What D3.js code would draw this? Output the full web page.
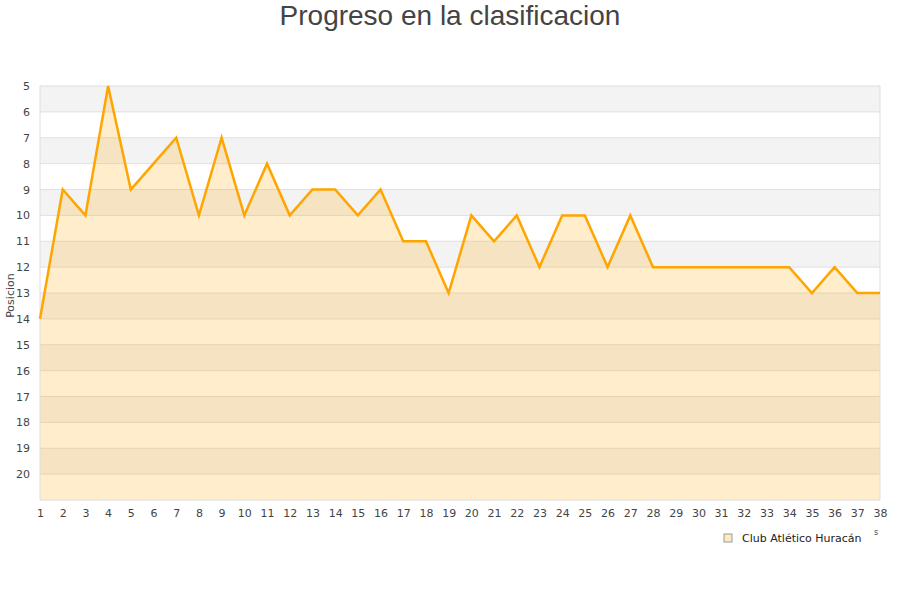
<!DOCTYPE html>
<html lang="es">
<head>
    <meta charset="UTF-8">
    <title>Progreso en la clasificacion</title>
    <style>
        body { margin: 0; padding: 0; background: #fff; }
        svg { display: block; }
        .tick text { font-family: "DejaVu Sans", sans-serif; font-size: 11px; fill: #444; }
        .title { font-family: "Liberation Sans", Arial, sans-serif; font-size: 28px; fill: #444; }
        .axis-label { font-family: "DejaVu Sans", sans-serif; font-size: 11px; fill: #444; }
        .legend text { font-family: "DejaVu Sans", sans-serif; font-size: 11px; fill: #222; }
    </style>
</head>
<body>
<svg id="chart" width="900" height="600"></svg>
<script src="https://d3js.org/d3.v7.min.js"></script>
<script>
    // jornadas and league position of the team
    const rounds = d3.range(1, 39);
    const positions = [14, 9, 10, 5, 9, 8, 7, 10, 7, 10,
                       8, 10, 9, 9, 10, 9, 11, 11, 13, 10,
                       11, 10, 12, 10, 10, 12, 10, 12, 12, 12,
                       12, 12, 12, 12, 13, 12, 13, 13];
    const yTicks = d3.range(5, 21);
    const seriesName = "Club Atlético Huracán";

    const margin = { top: 86, right: 20, bottom: 100, left: 40 };
    const width = 900 - margin.left - margin.right;
    const height = 600 - margin.top - margin.bottom;

    const svg = d3.select("#chart");
    const g = svg.append("g")
        .attr("transform", "translate(" + margin.left + "," + margin.top + ")");

    const x = d3.scaleLinear().domain([1, 38]).range([0, width]);
    const y = d3.scaleLinear().domain([5, 21]).range([0, height]);

    // alternating background bands
    g.selectAll(".band")
        .data(d3.range(5, 21))
        .enter().append("rect")
        .attr("class", "band")
        .attr("x", 0)
        .attr("width", width)
        .attr("y", d => y(d))
        .attr("height", d => y(d + 1) - y(d))
        .attr("fill", d => d % 2 === 1 ? "#f3f3f3" : "#ffffff");

    // grid lines
    g.selectAll(".grid")
        .data(yTicks.slice(1))
        .enter().append("line")
        .attr("x1", 0).attr("x2", width)
        .attr("y1", d => y(d)).attr("y2", d => y(d))
        .attr("stroke", "#e0e0e0")
        .attr("stroke-width", 1);

    const area = d3.area()
        .x((d, i) => x(rounds[i]))
        .y0(y(21))
        .y1(d => y(d));

    g.append("path")
        .datum(positions)
        .attr("d", area)
        .attr("fill", "#ffa500")
        .attr("fill-opacity", 0.2);

    // plot frame
    g.append("rect")
        .attr("width", width)
        .attr("height", height)
        .attr("fill", "none")
        .attr("stroke", "#dddddd");

    const line = d3.line()
        .x((d, i) => x(rounds[i]))
        .y(d => y(d));

    g.append("path")
        .datum(positions)
        .attr("d", line)
        .attr("fill", "none")
        .attr("stroke", "#ffa500")
        .attr("stroke-width", 2.5)
        .attr("stroke-linejoin", "miter");

    const xAxis = g.append("g")
        .attr("transform", "translate(0," + height + ")")
        .call(d3.axisBottom(x).tickValues(rounds).tickFormat(d3.format("d")).tickSize(0).tickPadding(9));
    xAxis.select(".domain").remove();

    const yAxis = g.append("g")
        .call(d3.axisLeft(y).tickValues(yTicks).tickFormat(d3.format("d")).tickSize(0).tickPadding(10));
    yAxis.select(".domain").remove();

    svg.append("text")
        .attr("class", "title")
        .attr("x", 450)
        .attr("y", 25)
        .attr("text-anchor", "middle")
        .text("Progreso en la clasificacion");

    svg.append("text")
        .attr("class", "axis-label")
        .attr("transform", "translate(14," + (margin.top + y(13.1)) + ") rotate(-90)")
        .attr("text-anchor", "middle")
        .text("Posicion");

    const legend = svg.append("g").attr("class", "legend")
        .attr("transform", "translate(724,534)");
    legend.append("rect")
        .attr("width", 8).attr("height", 8)
        .attr("fill", "#ffe9c2")
        .attr("stroke", "#999");
    legend.append("text")
        .attr("x", 18)
        .attr("y", 8)
        .text(seriesName);

    // clipped axis title remnant at the right edge
    svg.append("text")
        .attr("x", 874).attr("y", 535)
        .attr("font-family", "DejaVu Sans, sans-serif")
        .attr("font-size", 8)
        .attr("fill", "#444")
        .text("s");
</script>
</body>
</html>
